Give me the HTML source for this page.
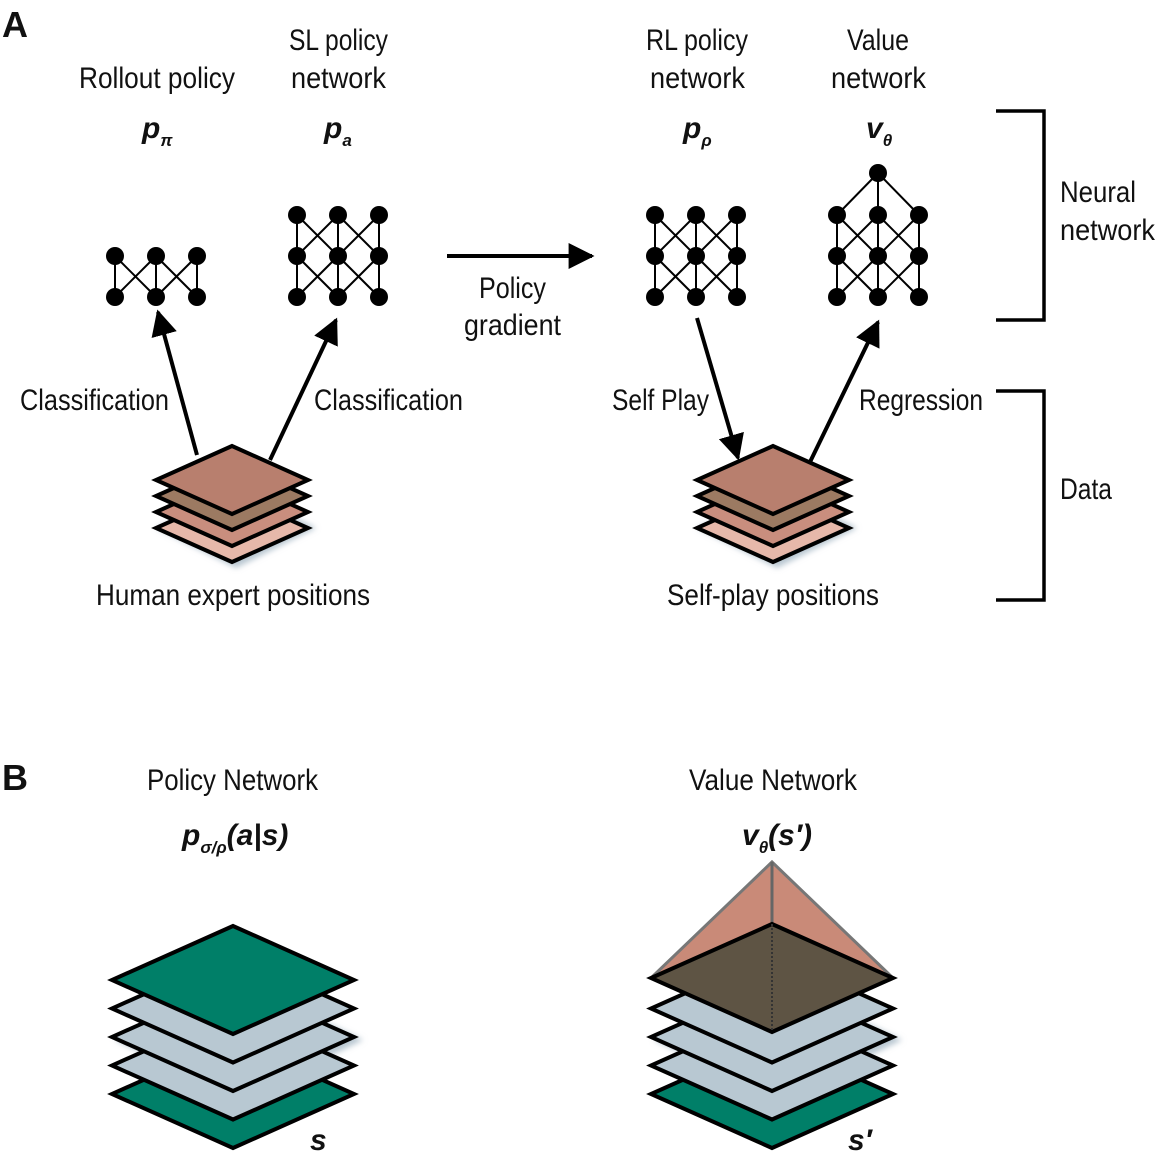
<!DOCTYPE html>
<html><head><meta charset="utf-8"><style>
html,body{margin:0;padding:0;background:#fff}
svg{display:block}
text{font-family:"Liberation Sans Narrow","Liberation Sans",sans-serif;fill:#111}
.lbl{font-size:30px}
.sym{font-size:30px;font-weight:bold;font-style:italic}
.sub{font-size:17px;font-weight:bold;font-style:italic}
</style></head><body>
<svg id="fig" width="1156" height="1174" viewBox="0 0 1156 1174">
<defs>
<marker id="ah" viewBox="0 0 10 10" refX="9" refY="5" markerWidth="6.5" markerHeight="6.5" orient="auto" markerUnits="strokeWidth">
<path d="M0,0 L10,5 L0,10 z" fill="#000"/></marker>
<filter id="sh" x="-20%" y="-20%" width="140%" height="150%"><feGaussianBlur stdDeviation="3"/></filter>
</defs>

<text x="2" y="37" style="font-size:36px;font-weight:bold">A</text>
<text x="2" y="790" style="font-size:36px;font-weight:bold">B</text>

<g>
<text class="lbl" x="79" y="88" textLength="156" lengthAdjust="spacingAndGlyphs">Rollout policy</text>
<text class="lbl" x="289" y="50" textLength="99" lengthAdjust="spacingAndGlyphs">SL policy</text>
<text class="lbl" x="291" y="88" textLength="95" lengthAdjust="spacingAndGlyphs">network</text>
<text class="lbl" x="646" y="50" textLength="102" lengthAdjust="spacingAndGlyphs">RL policy</text>
<text class="lbl" x="650" y="88" textLength="95" lengthAdjust="spacingAndGlyphs">network</text>
<text class="lbl" x="847" y="50" textLength="62" lengthAdjust="spacingAndGlyphs">Value</text>
<text class="lbl" x="831" y="88" textLength="95" lengthAdjust="spacingAndGlyphs">network</text>
<text class="sym" x="142" y="138">p<tspan class="sub" dy="8">π</tspan></text>
<text class="sym" x="324" y="138">p<tspan class="sub" dy="8">a</tspan></text>
<text class="sym" x="683" y="138">p<tspan class="sub" dy="8">ρ</tspan></text>
<text class="sym" x="866" y="138">v<tspan class="sub" dy="8">θ</tspan></text>
</g>

<g id="nets"></g>

<g stroke="#000" stroke-width="4" fill="none">
<line x1="197" y1="455" x2="158" y2="312" marker-end="url(#ah)"/>
<line x1="270" y1="460" x2="336" y2="320" marker-end="url(#ah)"/>
<line x1="447" y1="256" x2="592" y2="256" marker-end="url(#ah)"/>
<line x1="697" y1="318" x2="738" y2="458" marker-end="url(#ah)"/>
<line x1="810" y1="462" x2="878" y2="322" marker-end="url(#ah)"/>
</g>

<g>
<text class="lbl" x="20" y="410" textLength="149" lengthAdjust="spacingAndGlyphs">Classification</text>
<text class="lbl" x="314" y="410" textLength="149" lengthAdjust="spacingAndGlyphs">Classification</text>
<text class="lbl" x="479" y="298" textLength="67" lengthAdjust="spacingAndGlyphs">Policy</text>
<text class="lbl" x="464" y="335" textLength="97" lengthAdjust="spacingAndGlyphs">gradient</text>
<text class="lbl" x="612" y="410" textLength="97" lengthAdjust="spacingAndGlyphs">Self Play</text>
<text class="lbl" x="859" y="410" textLength="124" lengthAdjust="spacingAndGlyphs">Regression</text>
<text class="lbl" x="96" y="605" textLength="274" lengthAdjust="spacingAndGlyphs">Human expert positions</text>
<text class="lbl" x="667" y="605" textLength="212" lengthAdjust="spacingAndGlyphs">Self-play positions</text>
</g>

<g stroke="#000" stroke-width="3.5" fill="none">
<path d="M996,111 H1044 V320 H996"/>
<path d="M996,391 H1044 V600 H996"/>
</g>
<text class="lbl" x="1060" y="202" textLength="76" lengthAdjust="spacingAndGlyphs">Neural</text>
<text class="lbl" x="1060" y="240" textLength="95" lengthAdjust="spacingAndGlyphs">network</text>
<text class="lbl" x="1060" y="499" textLength="52" lengthAdjust="spacingAndGlyphs">Data</text>

<g id="stacks"></g>

<g>
<text class="lbl" x="147" y="790" textLength="171" lengthAdjust="spacingAndGlyphs">Policy Network</text>
<text class="lbl" x="689" y="790" textLength="168" lengthAdjust="spacingAndGlyphs">Value Network</text>
<text class="sym" x="182" y="845">p<tspan class="sub" dy="8">σ/ρ</tspan><tspan dy="-8">(a|s)</tspan></text>
<text class="sym" x="742" y="845">v<tspan class="sub" dy="8">θ</tspan><tspan dy="-8">(s′)</tspan></text>
<text class="sym" x="310" y="1150">s</text>
<text class="sym" x="848" y="1150">s′</text>
</g>
</svg>
<script>
var NS='http://www.w3.org/2000/svg';
function mk(tag,attrs,parent){var e=document.createElementNS(NS,tag);for(var k in attrs)e.setAttribute(k,attrs[k]);parent.appendChild(e);return e;}
var nets=document.getElementById('nets');
function net(cx,rows,top){
  var g=mk('g',{},nets);
  
  
  var xs=[cx-41,cx,cx+41],ys=[];
  for(var r=0;r<rows;r++)ys.push(297-41*(rows-1-r));
  for(var r=0;r<rows-1;r++)for(var i=0;i<3;i++){
    mk('line',{x1:xs[i],y1:ys[r],x2:xs[i],y2:ys[r+1],stroke:'#000','stroke-width':2},g);
    if(i<2){mk('line',{x1:xs[i],y1:ys[r],x2:xs[i+1],y2:ys[r+1],stroke:'#000','stroke-width':2},g);
            mk('line',{x1:xs[i+1],y1:ys[r],x2:xs[i],y2:ys[r+1],stroke:'#000','stroke-width':2},g);}
  }
  if(top){for(var i=0;i<3;i++)mk('line',{x1:cx,y1:173,x2:xs[i],y2:ys[0],stroke:'#000','stroke-width':2},g);
    mk('circle',{cx:cx,cy:173,r:9},g);}
  for(var r=0;r<rows;r++)for(var i=0;i<3;i++)mk('circle',{cx:xs[i],cy:ys[r],r:9},g);
}
net(156,2,false);net(338,3,false);net(696,3,false);net(878,3,true);

var st=document.getElementById('stacks');
function dia(cx,cy,hw,hh,fill,sw,p){
  return mk('path',{d:'M'+cx+','+(cy-hh)+' L'+(cx+hw)+','+cy+' L'+cx+','+(cy+hh)+' L'+(cx-hw)+','+cy+' Z',fill:fill,stroke:'#000','stroke-width':sw,'stroke-linejoin':'miter'},p);
}
function stackA(cx){
  var g=mk('g',{},st);
  
  
  dia(cx+4,528,80,40,'#b8c6d0',0,g).setAttribute('filter','url(#sh)');
  var fills=['#b87f6e','#9c7a62','#c98e7e','#e6b8aa'];
  for(var k=3;k>=0;k--)dia(cx,480+k*16,76,34,fills[k],4,g);
}
stackA(232);stackA(773);

function stackB(cx,pyr){
  var g=mk('g',{},st);
  
  
  dia(cx+6,1040,124,60,'#b8c6d0',0,g).setAttribute('filter','url(#sh)');
  var fills=['#007f68','#b8c8d2','#b8c8d2','#b8c8d2','#007f68'];
  for(var k=4;k>=0;k--){
    if(k==0&&pyr)continue;
    dia(cx,980+k*28.5,121,54,fills[k],4,g);
  }
  if(pyr){
    mk('path',{d:'M'+(cx-121)+',978 L'+cx+',862 L'+(cx+121)+',978 L'+cx+',924 Z',fill:'#c98a78',stroke:'#777','stroke-width':3},g);
    mk('line',{x1:cx,y1:862,x2:cx,y2:924,stroke:'#666','stroke-width':3},g);
    dia(cx,978,121,54,'#5e5444',4,g);
    mk('line',{x1:cx,y1:924,x2:cx,y2:1032,stroke:'#333','stroke-width':2,'stroke-dasharray':'2,2'},g);
  }
}
stackB(233,false);stackB(772,true);
</script>
</body></html>
